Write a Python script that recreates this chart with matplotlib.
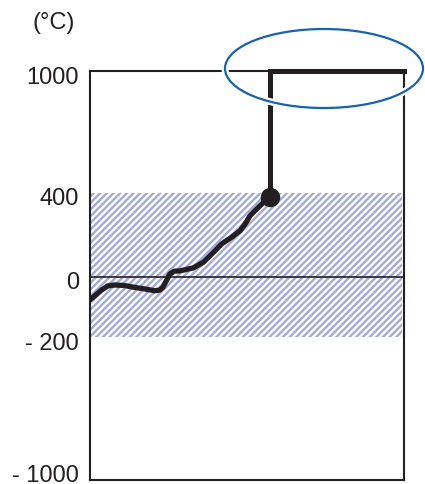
import numpy as np
import matplotlib.pyplot as plt
from matplotlib.patches import Ellipse, Rectangle
from matplotlib.transforms import ScaledTranslation

plt.rcParams['font.family'] = ['Liberation Sans', 'DejaVu Sans']
plt.rcParams['hatch.linewidth'] = 1.7

# Data
tick_vals = [-1000, -200, 0, 400, 1000]
tick_labels = ['- 1000', '- 200', '0', '400', '1000']
band_low, band_high = -200, 400  # hatched range
curve_x = [0, 0.15, 0.36, 0.57, 0.79, 1.11, 1.42, 1.74, 2.06, 2.22, 2.32,
           2.43, 2.54, 2.68, 2.87, 3.29, 3.61, 3.93, 4.19, 4.51, 4.78,
           4.94, 5.10, 5.25, 5.47, 5.63, 5.72]
curve_y = [-77, -64, -45, -31, -28, -30, -36, -41, -47, -45, -36,
           -14, 12, 25, 27, 41, 68, 115, 155, 187, 218,
           250, 290, 313, 345, 370, 380]
jump_x = 5.72
jump_top = 1000
x_end = 10

# piecewise axis (uneven spacing of the y labels)
knots_v = [-3000, -1000, -200, 0, 400, 1000, 3000]
knots_p = [-471 - 2000 * 0.16625, -471, -338, -277.5, -193.5, -72, -72 + 2000 * 0.2025]


def fwd(v):
    return np.interp(v, knots_v, knots_p)


def inv(p):
    return np.interp(p, knots_p, knots_v)


dark = '#231f20'
fig = plt.figure(figsize=(4.25, 4.85), dpi=100)
ax = fig.add_axes([90 / 425, 1 - 481 / 485, 314 / 425, (481 - 72) / 485])
ax.set_yscale('function', functions=(fwd, inv))
ax.set_ylim(inv(-481), 1000)
ax.set_xlim(0, x_end)

ax.add_patch(Rectangle((0, band_low), x_end * 0.994, band_high - band_low,
                       facecolor='white', edgecolor='#a3aad9', hatch='/////',
                       linewidth=0, zorder=1))
ax.axhline(0, color=dark, lw=1.2, zorder=2)

ax.plot(curve_x, curve_y, color=dark, lw=3.8, solid_capstyle='round',
        solid_joinstyle='round', zorder=3)
ax.plot([jump_x, jump_x, x_end], [curve_y[-1], jump_top, jump_top],
        color=dark, lw=3.6, solid_joinstyle='miter', clip_on=False, zorder=4)
ax.plot([curve_x[-1]], [curve_y[-1]], 'o', color=dark, ms=13, zorder=5)

for s in ax.spines.values():
    s.set_color(dark)
    s.set_linewidth(1.5)
ax.set_xticks([])
ax.set_yticks(tick_vals)
ax.set_yticklabels(tick_labels)
ax.tick_params(axis='y', length=0, pad=8, labelsize=17, colors=dark)
off = ScaledTranslation(0, -3 / 100, fig.dpi_scale_trans)
for lab in ax.get_yticklabels():
    lab.set_transform(lab.get_transform() + off)

fig.text(54 / 425, 1 - 23 / 485, '(°C)', fontsize=17, color=dark,
         ha='center', va='center')

# highlight ellipse
for lw, col in [(5, 'white'), (1.6, '#1862ae')]:
    fig.add_artist(Ellipse((3.24, (485 - 69.5) / 100), 1.98, 0.79,
                           transform=fig.dpi_scale_trans, fill=False,
                           lw=lw, edgecolor=col, zorder=10))

fig.savefig('out.png', dpi=100)
